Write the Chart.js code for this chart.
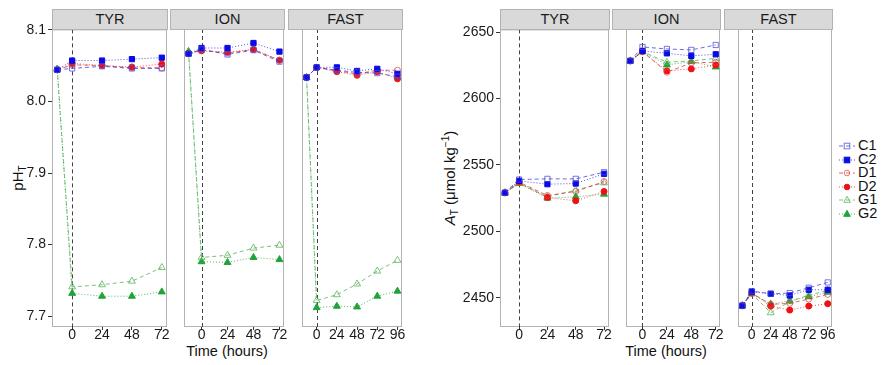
<!DOCTYPE html>
<html>
<head>
<title>pH and total alkalinity by treatment</title>
<script src="https://cdn.jsdelivr.net/npm/chart.js"></script>
<style>
  body { margin: 0; background: #fff; font-family: 'Liberation Sans', Arial, sans-serif; }
  #wrap { position: relative; width: 882px; height: 365px; overflow: hidden; background: #fff; }
  #wrap canvas { position: absolute; }
  .strip { position: absolute; top: 9px; height: 21px; background: #d9d9d9; border: 1px solid #b3b3b3;
           box-sizing: border-box; text-align: center; font-size: 14.5px; line-height: 19px; color: #1a1a1a; }
  .xtitle { position: absolute; top: 343px; width: 200px; text-align: center; font-size: 14.5px; color: #111; }
  .ytitle { position: absolute; font-size: 15px; color: #111; white-space: nowrap;
            transform: translate(-50%, -50%) rotate(-90deg); }
  .ytitle sub { font-size: 10px; vertical-align: -3px; }
  .ytitle sup { font-size: 10px; vertical-align: 6px; }
  #legend { position: absolute; left: 838px; top: 139px; font-size: 14.5px; color: #111; }
  #legend div { height: 13.5px; line-height: 13.5px; white-space: nowrap; }
  #legend svg { vertical-align: middle; margin-right: 2px; }
</style>
</head>
<body>
<div id="wrap">
  <div class="ytitle" style="left:18px; top:178px;">pH<sub>T</sub></div>
  <div class="ytitle" style="left:450px; top:178px;"><i>A</i><sub>T</sub> (μmol kg<sup>−1</sup>)</div>
  <div class="xtitle" style="left:127px;">Time (hours)</div>
  <div class="xtitle" style="left:566px;">Time (hours)</div>
  <div id="legend"></div>
</div>
<script>
const facets = ['TYR', 'ION', 'FAST'];
const seriesNames = ['C1', 'C2', 'D1', 'D2', 'G1', 'G2'];
const hours72 = [-12, 0, 24, 48, 72];
const hours96 = [-12, 0, 24, 48, 72, 96];
const ticks72 = [0, 24, 48, 72];
const ticks96 = [0, 24, 48, 72, 96];
const phTicks = [7.7, 7.8, 7.9, 8.0, 8.1];
const atTicks = [2450, 2500, 2550, 2600, 2650];

// pH_T (pre, 0, 24, 48, 72[, 96] h)
const phTYR_C1 = [8.044, 8.046, 8.049, 8.046, 8.046];
const phTYR_C2 = [8.044, 8.057, 8.057, 8.059, 8.061];
const phTYR_D1 = [8.044, 8.051, 8.050, 8.047, 8.047];
const phTYR_D2 = [8.044, 8.053, 8.050, 8.048, 8.052];
const phTYR_G1 = [8.045, 7.741, 7.744, 7.749, 7.768];
const phTYR_G2 = [8.045, 7.732, 7.728, 7.728, 7.734];

const phION_C1 = [8.066, 8.072, 8.065, 8.071, 8.055];
const phION_C2 = [8.066, 8.074, 8.074, 8.081, 8.069];
const phION_D1 = [8.066, 8.071, 8.067, 8.072, 8.057];
const phION_D2 = [8.066, 8.070, 8.068, 8.072, 8.057];
const phION_G1 = [8.069, 7.782, 7.785, 7.795, 7.799];
const phION_G2 = [8.069, 7.776, 7.775, 7.782, 7.779];

const phFAST_C1 = [8.033, 8.047, 8.043, 8.040, 8.039, 8.034];
const phFAST_C2 = [8.033, 8.047, 8.047, 8.042, 8.045, 8.038];
const phFAST_D1 = [8.033, 8.047, 8.042, 8.038, 8.043, 8.043];
const phFAST_D2 = [8.033, 8.047, 8.041, 8.036, 8.041, 8.031];
const phFAST_G1 = [8.033, 7.722, 7.730, 7.745, 7.763, 7.778];
const phFAST_G2 = [8.033, 7.712, 7.714, 7.713, 7.728, 7.735];

// A_T, umol/kg
const atTYR_C1 = [2529, 2539, 2539.5, 2539.5, 2544.5];
const atTYR_C2 = [2529, 2538, 2535.5, 2536, 2543.3];
const atTYR_D1 = [2529, 2537, 2527, 2530, 2537.5];
const atTYR_D2 = [2529, 2537, 2525.5, 2523, 2530];
const atTYR_G1 = [2529, 2536, 2526, 2531, 2536.5];
const atTYR_G2 = [2529, 2536, 2525, 2526, 2528];

const atION_C1 = [2628, 2638.5, 2637, 2636.3, 2640];
const atION_C2 = [2628, 2635.5, 2633.7, 2631.8, 2633];
const atION_D1 = [2628, 2635, 2619.5, 2626.5, 2627];
const atION_D2 = [2628, 2635, 2620.5, 2622, 2625];
const atION_G1 = [2628, 2635, 2627, 2628, 2630];
const atION_G2 = [2628, 2635, 2625, 2627.5, 2623.5];

const atFAST_C1 = [2444, 2455, 2453, 2453.5, 2457.5, 2461.5];
const atFAST_C2 = [2444, 2454.5, 2453, 2451.7, 2456, 2456];
const atFAST_D1 = [2444, 2453.5, 2445, 2445.8, 2449, 2452.5];
const atFAST_D2 = [2444, 2453.5, 2443.7, 2440.7, 2443.7, 2445.5];
const atFAST_G1 = [2444, 2453, 2438.7, 2447, 2452, 2455.5];
const atFAST_G2 = [2444, 2453, 2445.2, 2447.7, 2450.7, 2454.2];

const phSeries = {
  TYR: [phTYR_C1, phTYR_C2, phTYR_D1, phTYR_D2, phTYR_G1, phTYR_G2],
  ION: [phION_C1, phION_C2, phION_D1, phION_D2, phION_G1, phION_G2],
  FAST: [phFAST_C1, phFAST_C2, phFAST_D1, phFAST_D2, phFAST_G1, phFAST_G2]
};
const atSeries = {
  TYR: [atTYR_C1, atTYR_C2, atTYR_D1, atTYR_D2, atTYR_G1, atTYR_G2],
  ION: [atION_C1, atION_C2, atION_D1, atION_D2, atION_G1, atION_G2],
  FAST: [atFAST_C1, atFAST_C2, atFAST_D1, atFAST_D2, atFAST_G1, atFAST_G2]
};
const hoursFor = { TYR: hours72, ION: hours72, FAST: hours96 };
const ticksFor = { TYR: ticks72, ION: ticks72, FAST: ticks96 };

// look of each treatment
const styles = {
  C1: { line: 'rgba(45,45,210,0.7)', point: 'rgba(70,70,220,0.75)', shape: 'rect', r: 3.7, filled: false, dash: [4, 3] },
  C2: { line: 'rgba(20,20,225,0.75)', point: '#0a0ae6', shape: 'rect', r: 3.7, filled: true, dash: [1, 2] },
  D1: { line: 'rgba(215,40,40,0.7)', point: 'rgba(225,70,70,0.75)', shape: 'circle', r: 3, filled: false, dash: [4, 3] },
  D2: { line: 'rgba(235,25,25,0.75)', point: '#ee1111', shape: 'circle', r: 3, filled: true, dash: [1, 2] },
  G1: { line: 'rgba(80,175,80,0.75)', point: 'rgba(90,180,90,0.8)', shape: 'triangle', r: 4, filled: false, dash: [4, 3] },
  G2: { line: 'rgba(40,165,60,0.8)', point: '#21a33a', shape: 'triangle', r: 4, filled: true, dash: [1, 2] }
};

const PLOT_TOP = 29, PLOT_BOTTOM = 327;
const PAD_T = 10, PAD_R = 14, PAD_B = 24, PAD_L = 14;
const tickFont = { family: "'Liberation Sans', Arial, sans-serif", size: 14 };

// x=0 reference line and grey panel frame
const panelDeco = {
  id: 'panelDeco',
  beforeDatasetsDraw(chart) {
    const { ctx, chartArea: a } = chart;
    const px = Math.round(chart.scales.x.getPixelForValue(0)) + 0.5;
    ctx.save();
    ctx.strokeStyle = '#b3b3b3';
    ctx.lineWidth = 1;
    ctx.strokeRect(a.left + 0.5, a.top + 0.5, a.width - 1, a.height - 1);
    ctx.strokeStyle = '#444';
    ctx.setLineDash([4, 3]);
    ctx.beginPath();
    ctx.moveTo(px, a.top);
    ctx.lineTo(px, a.bottom);
    ctx.stroke();
    ctx.restore();
  }
};

const wrap = document.getElementById('wrap');

function addFacet(name, x0, x1, showY, panel) {
  const padL = showY ? panel.axisW : PAD_L;
  const canvas = document.createElement('canvas');
  const w = (x1 - x0) + padL + PAD_R;
  const h = (PLOT_BOTTOM - PLOT_TOP) + PAD_T + PAD_B;
  canvas.width = w;
  canvas.height = h;
  canvas.style.left = (x0 - padL) + 'px';
  canvas.style.top = (PLOT_TOP - PAD_T) + 'px';
  wrap.appendChild(canvas);

  const strip = document.createElement('div');
  strip.className = 'strip';
  strip.style.left = x0 + 'px';
  strip.style.width = (x1 - x0 + 1) + 'px';
  strip.textContent = name;
  wrap.appendChild(strip);

  const hrs = hoursFor[name];
  const span = hrs[hrs.length - 1] - hrs[0];
  const datasets = panel.data[name].map((vals, i) => {
    const s = styles[seriesNames[i]];
    return {
      label: seriesNames[i],
      data: vals.map((v, j) => ({ x: hrs[j], y: v })),
      borderColor: s.line,
      borderWidth: 1,
      borderDash: s.dash,
      pointStyle: s.shape,
      pointRadius: s.r,
      pointBorderWidth: 1,
      pointBorderColor: s.point,
      pointBackgroundColor: s.filled ? s.point : 'rgba(0,0,0,0)',
      tension: 0,
      clip: false
    };
  });

  new Chart(canvas, {
    type: 'line',
    data: { datasets },
    options: {
      responsive: false,
      animation: false,
      devicePixelRatio: 1,
      layout: { padding: { left: showY ? 0 : padL, right: PAD_R, top: PAD_T, bottom: 0 } },
      plugins: { legend: { display: false }, tooltip: { enabled: false } },
      scales: {
        x: {
          type: 'linear',
          min: hrs[0] - 0.05 * span,
          max: hrs[hrs.length - 1] + 0.05 * span,
          afterBuildTicks: sc => { sc.ticks = ticksFor[name].map(v => ({ value: v })); },
          afterFit: sc => { sc.height = PAD_B; },
          border: { display: false },
          grid: { drawOnChartArea: false, drawTicks: true, tickLength: 3, color: '#333' },
          ticks: { font: tickFont, color: '#1a1a1a', padding: -3, maxRotation: 0, autoSkip: false }
        },
        y: {
          type: 'linear',
          display: showY,
          min: panel.ymin,
          max: panel.ymax,
          afterBuildTicks: sc => { sc.ticks = panel.yticks.map(v => ({ value: v })); },
          afterFit: sc => { sc.width = padL; },
          border: { display: false },
          grid: { drawOnChartArea: false, drawTicks: true, tickLength: 4, color: '#333' },
          ticks: { font: tickFont, color: '#1a1a1a', padding: 2, callback: panel.fmt }
        }
      }
    },
    plugins: [panelDeco]
  });
}

const phPanel = { data: phSeries, ymin: 7.685, ymax: 8.1005, yticks: phTicks, fmt: v => v.toFixed(1), axisW: 52 };
const atPanel = { data: atSeries, ymin: 2428, ymax: 2652, yticks: atTicks, fmt: v => String(v), axisW: 50 };

const leftBoxes = [[52, 167], [170, 284], [288, 402]];
const rightBoxes = [[500, 609], [612, 720], [724, 832]];
facets.forEach((f, i) => addFacet(f, leftBoxes[i][0], leftBoxes[i][1], i === 0, phPanel));
facets.forEach((f, i) => addFacet(f, rightBoxes[i][0], rightBoxes[i][1], i === 0, atPanel));

// shared legend
const legend = document.getElementById('legend');
seriesNames.forEach(n => {
  const s = styles[n];
  const fill = s.filled ? s.point : 'none';
  let mark;
  if (s.shape === 'rect') mark = `<rect x="6.2" y="3.2" width="5.6" height="5.6" fill="${fill}" stroke="${s.point}"/>`;
  else if (s.shape === 'circle') mark = `<circle cx="9" cy="6" r="2.8" fill="${fill}" stroke="${s.point}"/>`;
  else mark = `<polygon points="9,2.3 12.3,8.3 5.7,8.3" fill="${fill}" stroke="${s.point}"/>`;
  const row = document.createElement('div');
  row.innerHTML = `<svg width="18" height="12"><line x1="1" y1="6" x2="17" y2="6" stroke="${s.line}" stroke-dasharray="${s.dash.join(',')}"/>${mark}</svg>${n}`;
  legend.appendChild(row);
});
</script>
</body>
</html>
